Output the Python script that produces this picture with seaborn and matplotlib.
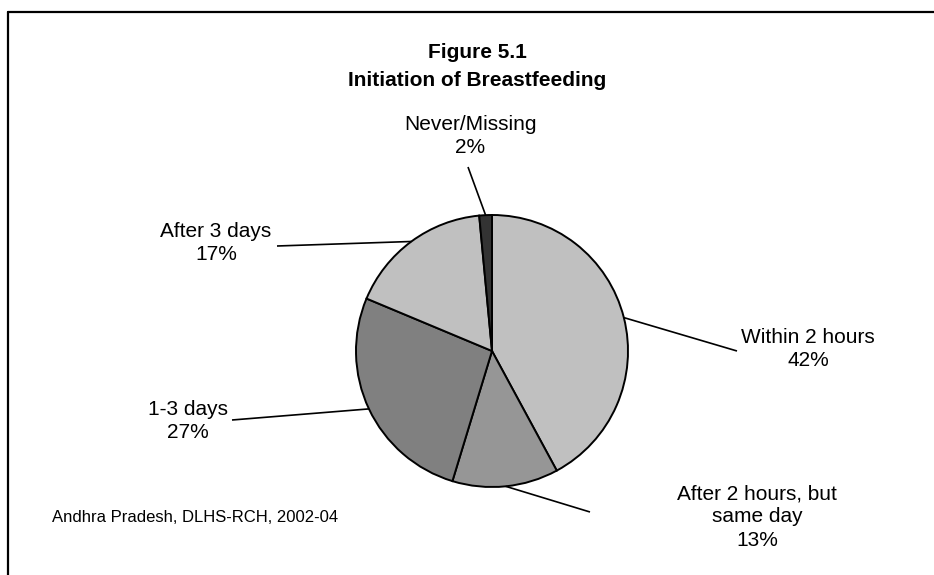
import matplotlib
matplotlib.use("Agg")
import matplotlib.pyplot as plt
import seaborn as sns
import numpy as np

# Initiation of breastfeeding, Andhra Pradesh (DLHS-RCH 2002-04), percent of children
categories = ["Within 2 hours", "After 2 hours, but\nsame day", "1-3 days",
              "After 3 days", "Never/Missing"]
shares = [42.1, 12.6, 26.6, 17.2, 1.5]
slice_colors = ["#C0C0C0", "#969696", "#808080", "#C0C0C0", "#333333"]

title_lines = ["Figure 5.1", "Initiation of Breastfeeding"]
source_note = "Andhra Pradesh, DLHS-RCH, 2002-04"

sns.set_theme(style="white")
plt.rcParams["font.family"] = ["Liberation Sans", "DejaVu Sans"]

W, H = 934, 575
fig = plt.figure(figsize=(W / 100, H / 100), dpi=100)
ax = fig.add_axes([0, 0, 1, 1])

# pie placement in pixel units (y measured upward)
cx, cy, R = 492, H - 351, 136
wedges, _ = ax.pie(shares, colors=slice_colors, startangle=90, counterclock=False,
                   center=(cx, cy), radius=R,
                   wedgeprops=dict(edgecolor="black", linewidth=1.4))
ax.set_xlim(0, W)
ax.set_ylim(0, H)
ax.set_aspect("equal")
ax.axis("off")

# label block centres and the outer end of each leader line (pixels from top-left)
label_xy = [(808, 349), (757, 517), (188, 421), (216, 243), (470, 136)]
leader_end = [(737, 351), (590, 512), (232, 420), (277, 246), (468, 167)]

total = sum(shares)
cum = np.cumsum([0] + shares[:-1])
for name, v, c0, (tx, ty), (lx, ly) in zip(categories, shares, cum, label_xy, leader_end):
    theta = np.deg2rad((c0 + v / 2) / total * 360)
    rx, ry = cx + R * np.sin(theta), cy + R * np.cos(theta)
    ax.plot([lx, rx], [H - ly, ry], color="black", lw=1.2, solid_capstyle="butt")
    ax.text(tx, H - ty, f"{name}\n{round(v / total * 100)}%", ha="center", va="center",
            fontsize=15, linespacing=1.28, color="black")

ax.text(477, H - 53, title_lines[0], ha="center", va="center", fontsize=15,
        fontweight="bold", color="black")
ax.text(477, H - 80, title_lines[1], ha="center", va="center", fontsize=15,
        fontweight="bold", color="black")
ax.text(52, H - 517, source_note, ha="left", va="center", fontsize=12, color="black")

# outer frame: top and left rules
ax.plot([8, W], [H - 12, H - 12], color="black", lw=1.6, clip_on=False)
ax.plot([8, 8], [0, H - 12], color="black", lw=1.6, clip_on=False)

fig.savefig("out.png", dpi=100, facecolor="white")
